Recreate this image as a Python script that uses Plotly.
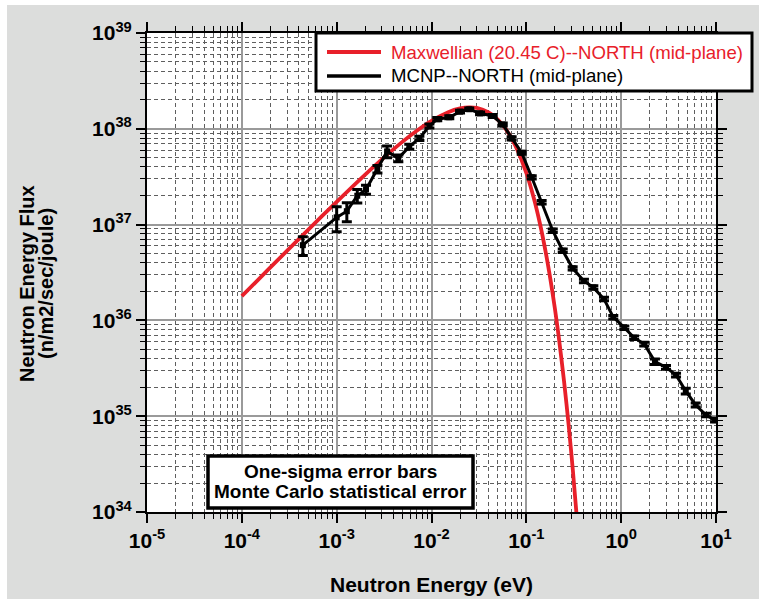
import plotly.graph_objects as go

# MCNP tally, north detector at the mid-plane (eV, n/m2/sec/joule, one-sigma)
mcnp_energy_ev = [4.4e-4, 1.0e-3, 1.28e-3, 1.65e-3, 2.04e-3, 2.69e-3, 3.4e-3, 4.47e-3,
                  5.83e-3, 7.45e-3, 9.5e-3, 1.15e-2, 1.54e-2, 2.0e-2, 2.5e-2, 3.25e-2,
                  4.42e-2, 5.64e-2, 7.0e-2, 8.93e-2, 0.114, 0.145, 0.19, 0.242, 0.308,
                  0.405, 0.509, 0.659, 0.826, 1.08, 1.37, 1.75, 2.27, 2.97, 3.79, 4.8,
                  6.11, 7.85, 9.77]
mcnp_flux = [6.1e36, 1.19e37, 1.38e37, 2.0e37, 2.33e37, 3.8e37, 5.8e37, 4.92e37,
             6.5e37, 7.95e37, 1.07e38, 1.26e38, 1.32e38, 1.51e38, 1.6e38, 1.45e38,
             1.36e38, 1.11e38, 7.95e37, 5.62e37, 3.12e37, 1.71e37, 8.64e36, 5.34e36, 3.5e36,
             2.58e36, 2.21e36, 1.67e36, 1.08e36, 8.4e35, 6.6e35, 5.67e35, 3.71e35, 3.24e35,
             2.69e35, 1.83e35, 1.31e35, 1.03e35, 9.1e34]
mcnp_sigma = [1.35e36, 3.5e36, 3.1e36, 3.2e36, 2.5e36, 3.5e36, 8.0e36, 4.0e36,
              4.0e36, 4.0e36, 5.0e36, 5.0e36, 5.0e36, 5.0e36, 5.0e36, 5.0e36,
              5.0e36, 4.0e36, 3.0e36, 2.0e36, 1.2e36, 7.0e35, 3.5e35, 2.2e35, 1.4e35,
              1.1e35, 9.0e34, 7.0e34, 4.5e34, 3.5e34, 2.8e34, 2.5e34, 2.5e34, 1.5e34,
              1.2e34, 1.3e34, 6.0e33, 4.5e33, 4.0e33]

# Maxwellian spectrum at 20.45 C, north mid-plane
maxw_energy_ev = [1e-4, 2e-4, 5e-4, 1e-3, 2e-3, 3e-3, 5e-3, 7e-3, 1e-2, 1.5e-2, 2e-2,
                  2.5e-2, 3e-2, 4e-2, 5e-2, 6e-2, 7e-2, 8e-2, 0.1, 0.12, 0.14, 0.16,
                  0.18, 0.2, 0.22, 0.25, 0.28, 0.31, 0.34]
maxw_flux = [1.79e36, 3.57e36, 8.82e36, 1.73e37, 3.33e37, 4.80e37, 7.39e37, 9.55e37,
             1.21e38, 1.49e38, 1.63e38, 1.675e38, 1.65e38, 1.48e38, 1.25e38, 1.008e38,
             7.92e37, 6.10e37, 3.46e37, 1.88e37, 9.96e36, 5.16e36, 2.63e36, 1.33e36,
             6.63e35, 2.30e35, 7.88e34, 2.67e34, 8.93e33]

x_tick_vals = [1e-5, 1e-4, 1e-3, 1e-2, 1e-1, 1, 10]
x_tick_text = ["10<sup>-5</sup>", "10<sup>-4</sup>", "10<sup>-3</sup>", "10<sup>-2</sup>",
               "10<sup>-1</sup>", "10<sup>0</sup>", "10<sup>1</sup>"]
y_tick_vals = [1e34, 1e35, 1e36, 1e37, 1e38, 1e39]
y_tick_text = ["10<sup>34</sup>", "10<sup>35</sup>", "10<sup>36</sup>",
               "10<sup>37</sup>", "10<sup>38</sup>", "10<sup>39</sup>"]

legend_labels = ["Maxwellian (20.45 C)--NORTH (mid-plane)", "MCNP--NORTH (mid-plane)"]
note_lines = ["One-sigma error bars", "Monte Carlo statistical error"]

RED = "#e8202a"
BG = "#dcdddc"
FONT = "Liberation Sans, Arial, Helvetica, sans-serif"

W, H = 759, 599
ML, MR, MT, MB = 147, 43, 33, 87
PW, PH = W - ML - MR, H - MT - MB


def px(xp):
    return (xp - ML) / PW


def py(yp):
    return (H - MB - yp) / PH


minor_x = [k * 10.0 ** n for n in range(-5, 1) for k in range(2, 10)]
minor_y = [k * 10.0 ** n for n in range(34, 39) for k in range(2, 10)]

fig = go.Figure()

fig.add_trace(go.Scatter(
    x=maxw_energy_ev, y=maxw_flux, mode="lines",
    line=dict(color=RED, width=3.8, shape="spline", smoothing=0.8),
    name=legend_labels[0], showlegend=False, hoverinfo="skip",
))

fig.add_trace(go.Scatter(
    x=mcnp_energy_ev, y=mcnp_flux, mode="lines+markers",
    line=dict(color="black", width=3),
    marker=dict(symbol="square", size=6, color="black"),
    error_y=dict(type="data", array=mcnp_sigma, visible=True,
                 color="black", thickness=3, width=5),
    name=legend_labels[1], showlegend=False,
))

axis_common = dict(
    type="log",
    showline=True, linecolor="black", linewidth=2, mirror="ticks",
    ticks="outside", ticklen=9, tickwidth=1.5, tickcolor="black",
    showgrid=True, gridcolor="#9a9a9a", gridwidth=1.5,
    tickfont=dict(family=FONT, size=21, color="black"),
    zeroline=False,
)

fig.update_xaxes(
    range=[-5, 1], tickmode="array", tickvals=x_tick_vals,
    ticktext=["<b>%s</b>" % t for t in x_tick_text],
    minor=dict(tickmode="array", tickvals=minor_x, ticks="outside", ticklen=5,
               tickwidth=1, tickcolor="black", showgrid=True,
               gridcolor="#5e5e5e", gridwidth=1, griddash="4px,3px"),
    **axis_common,
)
fig.update_yaxes(
    range=[34, 39], tickmode="array", tickvals=y_tick_vals,
    ticktext=["<b>%s</b>" % t for t in y_tick_text],
    minor=dict(tickmode="array", tickvals=minor_y, ticks="outside", ticklen=5,
               tickwidth=1, tickcolor="black", showgrid=True,
               gridcolor="#5e5e5e", gridwidth=1, griddash="4px,3px"),
    **axis_common,
)

shapes = [
    # thin white border around the grey page
    dict(type="rect", xref="paper", yref="paper", x0=-1, x1=2, y0=py(5), y1=2,
         fillcolor="white", line=dict(width=0), layer="below"),
    dict(type="rect", xref="paper", yref="paper", x0=-1, x1=px(7), y0=-1, y1=2,
         fillcolor="white", line=dict(width=0), layer="below"),
    # legend box
    dict(type="rect", xref="paper", yref="paper", x0=px(316), x1=px(752),
         y0=py(91), y1=py(33), fillcolor="white", line=dict(color="black", width=3),
         layer="above"),
    dict(type="line", xref="paper", yref="paper", x0=px(327), x1=px(381),
         y0=py(52), y1=py(52), line=dict(color=RED, width=3.8), layer="above"),
    dict(type="line", xref="paper", yref="paper", x0=px(327), x1=px(381),
         y0=py(76), y1=py(76), line=dict(color="black", width=3.5), layer="above"),
    # note box
    dict(type="rect", xref="paper", yref="paper", x0=px(208), x1=px(473),
         y0=py(508), y1=py(456), fillcolor="white", line=dict(color="black", width=3.5),
         layer="above"),
]

annotations = [
    dict(text=legend_labels[0], x=px(389), y=py(52), xanchor="left", yanchor="middle",
         font=dict(family=FONT, size=18.6, color=RED)),
    dict(text=legend_labels[1], x=px(389), y=py(76), xanchor="left", yanchor="middle",
         font=dict(family=FONT, size=18.6, color="black")),
    dict(text="<b>%s</b>" % note_lines[0], x=px(340.5), y=py(471), xanchor="center",
         yanchor="middle", font=dict(family=FONT, size=19, color="black")),
    dict(text="<b>%s</b>" % note_lines[1], x=px(340.5), y=py(491), xanchor="center",
         yanchor="middle", font=dict(family=FONT, size=19, color="black")),
    dict(text="<b>Neutron Energy (eV)</b>", x=0.5, y=py(584), xanchor="center",
         yanchor="middle", font=dict(family=FONT, size=21, color="black")),
    dict(text="<b>Neutron Energy Flux</b>", x=px(27), y=py(284), textangle=-90,
         xanchor="center", yanchor="middle", font=dict(family=FONT, size=20, color="black")),
    dict(text="<b>(n/m2/sec/joule)</b>", x=px(46), y=py(284), textangle=-90,
         xanchor="center", yanchor="middle", font=dict(family=FONT, size=20, color="black")),
]
for a in annotations:
    a.update(xref="paper", yref="paper", showarrow=False)

fig.update_layout(
    width=W, height=H,
    margin=dict(l=ML, r=MR, t=MT, b=MB),
    paper_bgcolor=BG, plot_bgcolor="white",
    font=dict(family=FONT, color="black"),
    showlegend=False,
    shapes=shapes,
    annotations=annotations,
)

fig.write_html("out.html")
